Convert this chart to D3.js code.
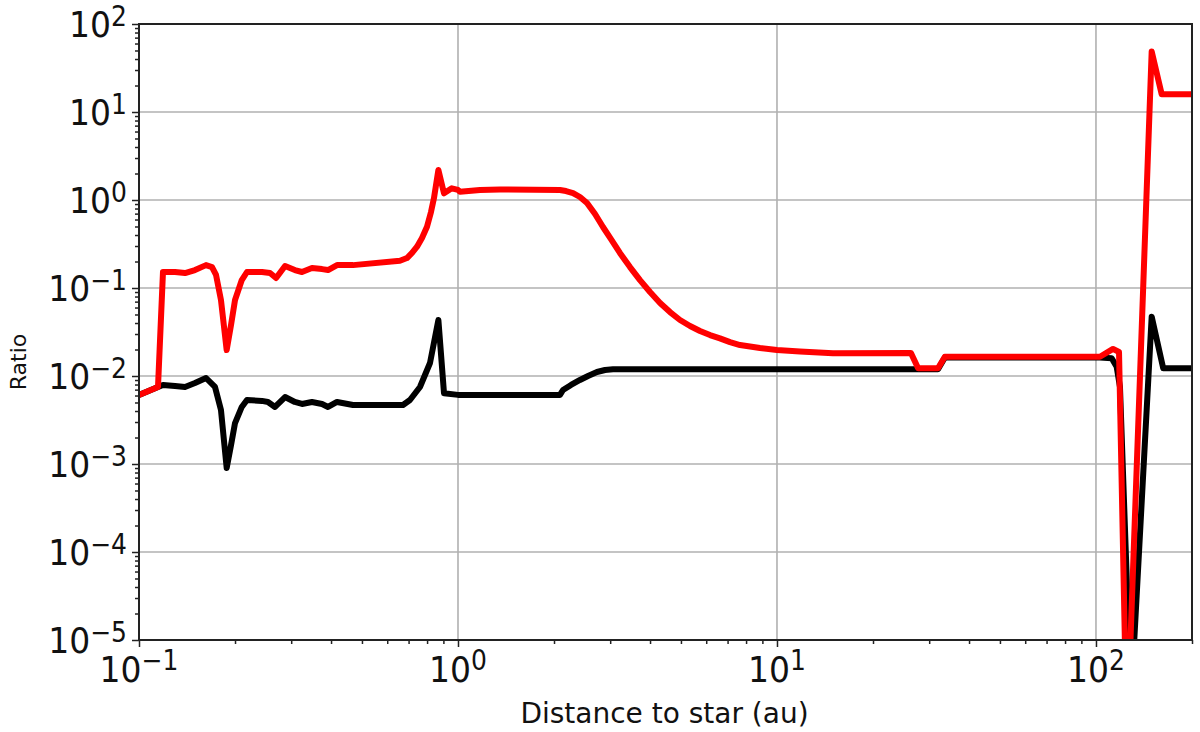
<!DOCTYPE html>
<html>
<head>
<meta charset="utf-8">
<script src="https://cdn.jsdelivr.net/npm/d3@7"></script>
<style>
  body { margin: 0; background: #fff; }
  svg { display: block; font-family: "DejaVu Sans", sans-serif; }
</style>
</head>
<body>
<div id="chart"></div>
<script>
// distance to star (au) and ratio
const redX = [0.1, 0.1147, 0.1189, 0.1297, 0.1394, 0.1498, 0.1622, 0.1694, 0.1744, 0.1807,
  0.1883, 0.1943, 0.200, 0.210, 0.218, 0.243, 0.2575, 0.269, 0.287, 0.308,
  0.3243, 0.3485, 0.3748, 0.3914, 0.4176, 0.4687, 0.6577, 0.692, 0.7177, 0.744,
  0.7712, 0.7995, 0.823, 0.841, 0.868, 0.904, 0.956, 1.0, 1.0145, 1.172,
  1.354, 2.088, 2.181, 2.294, 2.412, 2.538, 2.689, 2.848, 3.017, 3.218,
  3.461, 3.72, 3.999, 4.30, 4.62, 4.966, 5.339, 5.737, 6.166, 6.625,
  7.124, 7.656, 8.845, 10, 11.8, 14.98, 26.3, 27.7, 31.97, 33.6,
  102.9, 113.1, 118.1, 125.0, 149.5, 160.7, 200];
const redY = [0.0061, 0.0075, 0.152, 0.152, 0.148, 0.160, 0.182, 0.173, 0.1406, 0.0731,
  0.0197, 0.038, 0.0731, 0.123, 0.152, 0.152, 0.148, 0.130, 0.178, 0.160,
  0.152, 0.1687, 0.164, 0.160, 0.182, 0.182, 0.204, 0.219, 0.250, 0.2945,
  0.370, 0.4977, 0.731, 1.054, 2.19, 1.19, 1.358, 1.30, 1.242, 1.30,
  1.316, 1.30, 1.265, 1.20, 1.081, 0.925, 0.693, 0.493, 0.360, 0.250,
  0.173, 0.123, 0.0901, 0.0676, 0.0533, 0.0433, 0.0370, 0.0325, 0.0292, 0.0268,
  0.0243, 0.0225, 0.0208, 0.0197, 0.0190, 0.0181, 0.0183, 0.01222, 0.01222, 0.01656,
  0.01656, 0.0203, 0.01875, 7.3e-7, 48.8, 15.9, 15.9];

const blackX = [0.1, 0.1147, 0.1189, 0.1297, 0.1394, 0.1498, 0.1622, 0.1731, 0.1807, 0.1883,
  0.1943, 0.200, 0.210, 0.218, 0.243, 0.2537, 0.2669, 0.287, 0.308, 0.3243,
  0.3485, 0.3748, 0.3914, 0.4176, 0.4687, 0.6724, 0.707, 0.760, 0.817, 0.868,
  0.904, 1.0, 2.088, 2.134, 2.261, 2.412, 2.556, 2.727, 2.89, 3.061,
  6.625, 26.3, 31.97, 33.6, 102.9, 112.0, 116.1, 118.9, 128.8, 149.5,
  162.5, 200];
const blackY = [0.0061, 0.0075, 0.00791, 0.00769, 0.0075, 0.00832, 0.00949, 0.0075, 0.00411, 0.000901,
  0.00164, 0.00292, 0.00445, 0.00534, 0.00521, 0.00507, 0.00445, 0.00577, 0.00507, 0.00481,
  0.00507, 0.00481, 0.00445, 0.00507, 0.00468, 0.00468, 0.00534, 0.0075, 0.01406, 0.0433,
  0.00636, 0.0061, 0.0061, 0.00693, 0.00791, 0.00901, 0.01, 0.0111, 0.0117, 0.0119,
  0.0119, 0.0119, 0.0119, 0.0162, 0.0162, 0.0159, 0.01276, 0.00756, 2.08e-6, 0.0472,
  0.01222, 0.01222];

const xTicks = [0.1, 1, 10, 100];
const xTickExp = ["\u22121", "0", "1", "2"];
const yTicks = [1e-5, 1e-4, 1e-3, 1e-2, 1e-1, 1, 10, 100];
const yTickExp = ["\u22125", "\u22124", "\u22123", "\u22122", "\u22121", "0", "1", "2"];

const width = 1200, height = 732;
const margin = {top: 24, right: 8, bottom: 92, left: 139};
const W = width - margin.left - margin.right;
const H = height - margin.top - margin.bottom;

const svg = d3.select("#chart").append("svg")
  .attr("width", width)
  .attr("height", height);

const g = svg.append("g")
  .attr("transform", "translate(" + margin.left + "," + margin.top + ")");

const x = d3.scaleLog().domain([0.1, 200]).range([0, W]);
const y = d3.scaleLog().domain([1e-5, 100]).range([H, 0]);

// minor ticks 2..9 in each decade
function minors(lo, hi) {
  let out = [];
  for (let e = Math.floor(Math.log10(lo)); e <= Math.ceil(Math.log10(hi)); e++) {
    for (let k = 2; k <= 9; k++) {
      let v = k * Math.pow(10, e);
      if (v >= lo && v <= hi) out.push(v);
    }
  }
  return out;
}

// grid
g.append("g").selectAll("line").data(xTicks).enter().append("line")
  .attr("x1", d => x(d)).attr("x2", d => x(d))
  .attr("y1", 0).attr("y2", H)
  .attr("stroke", "#b0b0b0").attr("stroke-width", 1.6);
g.append("g").selectAll("line").data(yTicks).enter().append("line")
  .attr("x1", 0).attr("x2", W)
  .attr("y1", d => y(d)).attr("y2", d => y(d))
  .attr("stroke", "#b0b0b0").attr("stroke-width", 1.6);

// lines
g.append("clipPath").attr("id", "clip").append("rect")
  .attr("width", W).attr("height", H);

const line = d3.line()
  .x(d => x(d[0]))
  .y(d => y(d[1]));

g.append("path")
  .datum(d3.zip(blackX, blackY))
  .attr("clip-path", "url(#clip)")
  .attr("fill", "none")
  .attr("stroke", "#000")
  .attr("stroke-width", 6)
  .attr("stroke-linejoin", "round")
  .attr("d", line);

g.append("path")
  .datum(d3.zip(redX, redY))
  .attr("clip-path", "url(#clip)")
  .attr("fill", "none")
  .attr("stroke", "#ff0000")
  .attr("stroke-width", 6)
  .attr("stroke-linejoin", "round")
  .attr("d", line);

// axes
const xAxis = g.append("g").attr("transform", "translate(0," + H + ")")
  .call(d3.axisBottom(x).tickValues(xTicks).tickSize(7).tickFormat(""));
xAxis.append("g").call(d3.axisBottom(x).tickValues(minors(0.1, 200)).tickSize(4).tickFormat(""));

const yAxis = g.append("g")
  .call(d3.axisLeft(y).tickValues(yTicks).tickSize(7).tickFormat(""));
yAxis.append("g").call(d3.axisLeft(y).tickValues(minors(1e-5, 100)).tickSize(4).tickFormat(""));

g.selectAll(".domain").attr("stroke", "none");
g.selectAll(".tick line").attr("stroke", "#222").attr("stroke-width", 1.5);

// frame
g.append("rect")
  .attr("width", W).attr("height", H)
  .attr("fill", "none").attr("stroke", "#222").attr("stroke-width", 2);

// tick labels (slightly stretched vertically like the source figure)
xTicks.forEach((v, i) => {
  let t = g.append("text")
    .attr("transform", "translate(" + x(v) + "," + (H + 42) + ") scale(1,1.1)")
    .attr("text-anchor", "middle")
    .attr("font-size", 33).attr("fill", "#111");
  t.append("tspan").text("10");
  t.append("tspan").attr("dy", -11).attr("font-size", 25).text(xTickExp[i]);
});

yTicks.forEach((v, i) => {
  let t = g.append("text")
    .attr("transform", "translate(-12," + (y(v) + 13) + ") scale(1,1.1)")
    .attr("text-anchor", "end")
    .attr("font-size", 33).attr("fill", "#111");
  t.append("tspan").text("10");
  t.append("tspan").attr("dy", -10).attr("font-size", 25).text(yTickExp[i]);
});

// axis titles
svg.append("text")
  .attr("x", margin.left + W / 2 - 1).attr("y", 723)
  .attr("text-anchor", "middle")
  .attr("font-size", 28).attr("fill", "#111")
  .text("Distance to star (au)");

svg.append("text")
  .attr("transform", "translate(26," + (margin.top + H / 2 + 30) + ") rotate(-90)")
  .attr("text-anchor", "middle")
  .attr("font-size", 22).attr("fill", "#111")
  .text("Ratio");
</script>
</body>
</html>
